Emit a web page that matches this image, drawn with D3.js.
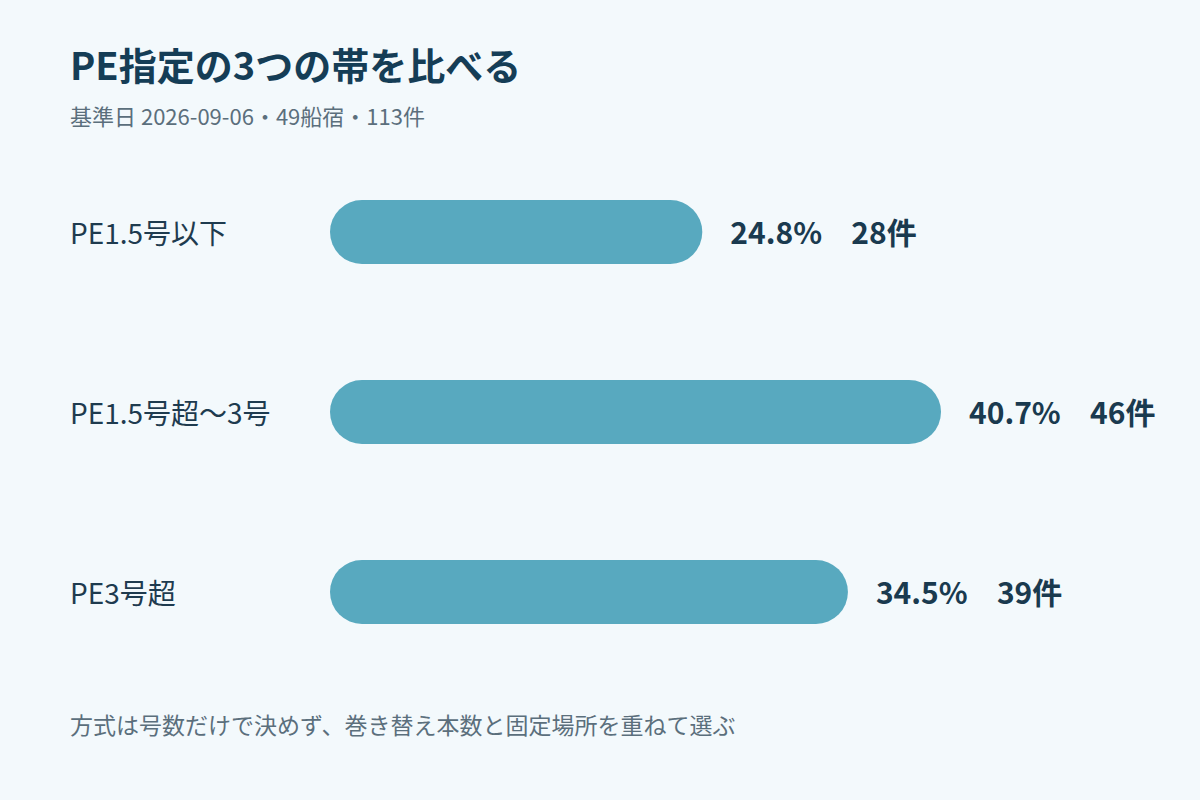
<!DOCTYPE html>
<html>
<head>
<meta charset="utf-8">
<script src="https://cdn.jsdelivr.net/npm/d3@7"></script>
<style>
  html, body { margin: 0; padding: 0; background: #f3f9fc; }
  svg { display: block; font-family: "Noto Sans CJK JP", "Noto Sans", sans-serif; }
</style>
</head>
<body>
<svg id="chart" width="1200" height="800"></svg>
<script>
// Chart data
const categories = ['PE1.5号以下', 'PE1.5号超〜3号', 'PE3号超'];
const shares = [24.8, 40.7, 34.5];
const counts = [28, 46, 39];

const title = 'PE指定の3つの帯を比べる';
const subtitle = '基準日 2026-09-06・49船宿・113件';
const note = '方式は号数だけで決めず、巻き替え本数と固定場所を重ねて選ぶ';

const svg = d3.select('#chart');
const W = 1200, H = 800;

svg.append('rect').attr('width', W).attr('height', H).attr('fill', '#f3f9fc');

// Title and subtitle
svg.append('text')
  .attr('x', 70).attr('y', 80)
  .attr('font-size', 38).attr('font-weight', 700)
  .attr('fill', '#153d56')
  .text(title);

svg.append('text')
  .attr('x', 70).attr('y', 125)
  .attr('font-size', 22)
  .attr('fill', '#5b6f7c')
  .text(subtitle);

// Scales
const x = d3.scaleLinear().domain([0, d3.max(shares)]).range([330, 941]);
const y = d3.scaleBand().domain(categories).range([142, 682]).paddingInner(0.645).paddingOuter(0.323);
const barH = y.bandwidth();

const rows = svg.append('g')
  .selectAll('g')
  .data(categories)
  .join('g')
  .attr('transform', d => `translate(0,${y(d)})`);

rows.append('text')
  .attr('x', 70).attr('y', barH / 2)
  .attr('dy', '0.42em')
  .attr('font-size', 28)
  .attr('fill', '#1e3b4f')
  .text(d => d);

rows.append('rect')
  .attr('x', x(0))
  .attr('width', (d, i) => x(shares[i]) - x(0))
  .attr('height', barH)
  .attr('rx', barH / 2)
  .attr('fill', '#58a9bf');

rows.append('text')
  .attr('x', (d, i) => x(shares[i]) + 28)
  .attr('y', barH / 2).attr('dy', '0.4em')
  .attr('font-size', 30).attr('font-weight', 700)
  .attr('fill', '#1a3a4f')
  .text((d, i) => shares[i].toFixed(1) + '%');

rows.append('text')
  .attr('x', (d, i) => x(shares[i]) + 149)
  .attr('y', barH / 2).attr('dy', '0.4em')
  .attr('font-size', 30).attr('font-weight', 700)
  .attr('fill', '#1a3a4f')
  .text((d, i) => counts[i] + '件');

// Footer note
svg.append('text')
  .attr('x', 70).attr('y', 734)
  .attr('font-size', 23)
  .attr('fill', '#5b6f7c')
  .text(note);
</script>
</body>
</html>
